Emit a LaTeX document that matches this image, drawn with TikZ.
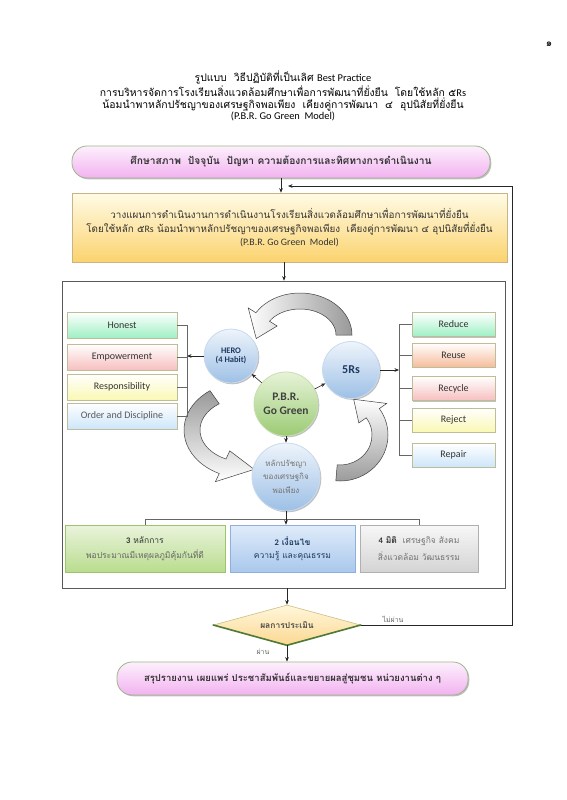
\documentclass[tikz,border=0pt]{standalone}
\usepackage{fontspec}
\setmainfont{Carlito}
\newfontfamily\thaifont[Script=Thai]{Loma}
\usetikzlibrary{arrows.meta,shapes.geometric,shadows}
\newcommand{\thx}[1]{{\thaifont #1}}
\newcommand{\lat}[1]{{\rmfamily #1}}
\newcommand{\fs}[1]{\fontsize{#1}{#1}\selectfont}
\definecolor{pinkT}{HTML}{FDF0FD}
\definecolor{pinkB}{HTML}{F2B2F0}
\definecolor{pillLine}{HTML}{9FB58A}
\definecolor{planT}{HTML}{FFFBE6}
\definecolor{planB}{HTML}{FBD36E}
\definecolor{planLine}{HTML}{C9B488}
\definecolor{txt}{HTML}{333333}
\definecolor{navy}{HTML}{1F3A60}
\definecolor{honB}{HTML}{9EF0C4}
\definecolor{empB}{HTML}{F7BFBF}
\definecolor{resB}{HTML}{FAF8B4}
\definecolor{ordB}{HTML}{CDE6FA}
\definecolor{reuB}{HTML}{F6BC9C}
\definecolor{boxL}{HTML}{BDBD98}
\definecolor{cirT}{HTML}{EEF4FB}
\definecolor{cirB}{HTML}{9DC0E6}
\definecolor{cirL}{HTML}{C9DAEE}
\definecolor{grT}{HTML}{E6F3D8}
\definecolor{grB}{HTML}{9CCB74}
\definecolor{grL}{HTML}{C8DEB0}
\definecolor{bAT}{HTML}{EAF4DC}
\definecolor{bAB}{HTML}{B9DC8E}
\definecolor{bAL}{HTML}{9CC46C}
\definecolor{bBT}{HTML}{E0ECFA}
\definecolor{bBB}{HTML}{A9C8EC}
\definecolor{bBL}{HTML}{8FB0D8}
\definecolor{bCT}{HTML}{F7F7F7}
\definecolor{bCB}{HTML}{D4D4D4}
\definecolor{bCL}{HTML}{B0B0B0}
\definecolor{dT}{HTML}{FFF7DC}
\definecolor{dB}{HTML}{FBD892}
\definecolor{dL}{HTML}{D0BE80}
\definecolor{dG}{HTML}{4E7A36}
\newcommand{\cycarrow}[8]{%
 \begin{scope}[shift={(#2,#3)},yscale=-1]
 \pgfmathsetmacro\cROx{#4+8}\pgfmathsetmacro\cROy{#5+8}
 \pgfmathsetmacro\cRIx{#4-8}\pgfmathsetmacro\cRIy{#5-8}
 \pgfmathsetmacro\cHOx{#4+17}\pgfmathsetmacro\cHOy{#5+17}
 \pgfmathsetmacro\cHIx{#4-17}\pgfmathsetmacro\cHIy{#5-17}
 \pgfmathsetmacro\cT{#7+#8}
 \path[#1] ({\cROx*cos(#6)},{\cROy*sin(#6)}) arc[start angle=#6,end angle=#7,x radius=\cROx,y radius=\cROy]
  -- ({\cHOx*cos(#7)},{\cHOy*sin(#7)}) -- ({#4*cos(\cT)},{#5*sin(\cT)})
  -- ({\cHIx*cos(#7)},{\cHIy*sin(#7)}) -- ({\cRIx*cos(#7)},{\cRIy*sin(#7)})
  arc[start angle=#7,end angle=#6,x radius=\cRIx,y radius=\cRIy] -- cycle;
 \end{scope}}
\tikzset{
 conn/.style={draw=black!85, line width=0.6pt},
 arr/.style={conn,-{Stealth[length=4.5pt,width=3.6pt]}},
 brk/.style={draw=black!60, line width=0.6pt},
 shd/.style={drop shadow={shadow xshift=1.3pt,shadow yshift=-1.3pt,opacity=0.35,fill=black!70}},
 pill/.style={rounded corners=15pt, draw=pillLine, line width=0.8pt, top color=pinkT, bottom color=pinkB, shd, text=txt, font=\thaifont\bfseries\fs{9.5}, inner sep=0pt},
 planbox/.style={draw=planLine, line width=0.6pt, top color=planT, bottom color=planB, shd, text=txt, align=center, font=\thaifont\fs{9.85}, inner sep=0pt},
 lbox/.style={draw=boxL, line width=0.5pt, top color=white, minimum width=110pt, minimum height=26pt, shd, text=txt, font=\fs{10}, inner sep=0pt},
 rbox/.style={draw=boxL, line width=0.5pt, top color=white, minimum width=83pt, minimum height=24pt, shd, text=txt, font=\fs{10}, inner sep=0pt},
 bcir/.style={circle, draw=cirL, line width=0.8pt, top color=cirT, bottom color=cirB, shd, inner sep=0pt, align=center},
 gcir/.style={circle, draw=grL, line width=0.8pt, top color=grT, bottom color=grB, shd, inner sep=0pt, align=center},
 bbox/.style={line width=0.6pt, minimum height=47pt, shd, inner sep=0pt, align=center, font=\thaifont\fs{8.5}},
 cyca/.style={draw=black!75, line width=0.5pt},
 lab/.style={font=\thaifont\fs{7}, text=black!60, inner sep=1pt}
}
\begin{document}
\begin{tikzpicture}[x=1pt,y=-1pt]
\useasboundingbox (0,0) rectangle (566,800);
\fill[white] (0,0) rectangle (566,800);

% page number and title
\node[font=\thaifont\fs{10}] (pg) at (549,44) {๑};
\node[font=\thaifont\fs{10.4}, align=center, text=black] (title) at (283,96)
 {รูปแบบ\ \ วิธีปฏิบัติที่เป็นเลิศ \lat{Best Practice}\\[0.5pt]
  การบริหารจัดการโรงเรียนสิ่งแวดล้อมศึกษาเพื่อการพัฒนาที่ยั่งยืน\ \ โดยใช้หลัก ๕\lat{Rs}\\[0.5pt]
  น้อมนำพาหลักปรัชญาของเศรษฐกิจพอเพียง\ \ เคียงคู่การพัฒนา\ \ ๔\ \ อุปนิสัยที่ยั่งยืน\\[0.5pt]
  \lat{(P.B.R. Go Green\ \ Model)}};

% top pill
\node[pill, font=\thaifont\bfseries\fs{10.2}, minimum width=418pt, minimum height=32pt] (topbox) at (281,162)
 {ศึกษาสภาพ\ \ ปัจจุบัน\ \ ปัญหา ความต้องการและทิศทางการดำเนินงาน};

% plan box
\node[planbox, minimum width=435pt, minimum height=69pt] (plan) at (289.5,227.5)
 {วางแผนการดำเนินงานการดำเนินงานโรงเรียนสิ่งแวดล้อมศึกษาเพื่อการพัฒนาที่ยั่งยืน\\[3pt]
  โดยใช้หลัก ๕\lat{Rs} น้อมนำพาหลักปรัชญาของเศรษฐกิจพอเพียง\ \ เคียงคู่การพัฒนา ๔ อุปนิสัยที่ยั่งยืน\\[3pt]
  \lat{(P.B.R. Go Green\ \ Model)}};

% inner frame
\node[draw=black!65, line width=0.6pt, fill=white, minimum width=443pt, minimum height=307pt, inner sep=0pt] (frame) at (283.5,434.5) {};

% curved cycle arrows
\cycarrow{cyca, left color=white, right color=black!40}{300}{335}{44}{34}{0}{148}{38}
\cycarrow{cyca, top color=black!40, bottom color=white}{245}{430}{53}{40}{125}{245}{35}
\cycarrow{cyca, bottom color=black!40, top color=white}{340}{435}{40}{38}{-95}{35}{35}

% left boxes
\node[lbox, bottom color=honB] (hon) at (122,325) {Honest};
\node[lbox, bottom color=empB] (emp) at (122,357) {Empowerment};
\node[lbox, bottom color=resB] (res) at (122,387) {Responsibility};
\node[lbox, bottom color=ordB, text=black!65] (ord) at (122,416) {Order and Discipline};

% right boxes
\node[rbox, bottom color=honB] (red) at (453.5,324.5) {Reduce};
\node[rbox, bottom color=reuB] (reu) at (453.5,355) {Reuse};
\node[rbox, bottom color=empB] (rec) at (453.5,388.5) {Recycle};
\node[rbox, bottom color=resB] (rej) at (453.5,420) {Reject};
\node[rbox, bottom color=ordB] (rep) at (453.5,455) {Repair};

% circles
\node[bcir, minimum size=54pt, font=\bfseries\fs{8.5}, text=navy] (hero) at (231,356) {HERO\\[1pt](4 Habit)};
\node[bcir, minimum size=57pt, font=\bfseries\fs{12}, text=navy] (r5) at (351,370) {5Rs};
\node[gcir, minimum size=64pt, font=\bfseries\fs{11.5}, text=black!75] (pbr) at (286,404) {P.B.R.\\[3pt]Go Green};
\node[bcir, minimum size=68pt, font=\thaifont\fs{8}, text=black!55] (lak) at (286,477) {หลักปรัชญา\\[4pt]ของเศรษฐกิจ\\[4pt]พอเพียง};

% arrows from center
\draw[arr] (pbr) -- (hero);
\draw[arr] (pbr) -- (r5);
\draw[arr] (pbr) -- (lak);

% left bracket
\coordinate (lbx) at (187,0);
\draw[brk] (hon.east) -- (hon.east -| lbx) -- (ord.east -| lbx) -- (ord.east);
\draw[brk] (emp.east) -- (emp.east -| lbx);
\draw[brk] (res.east) -- (res.east -| lbx);
\draw[arr] (hero.west) -- (hero.west -| lbx);

% right bracket
\coordinate (rbx) at (399,0);
\draw[brk] (red.west) -- (red.west -| rbx) -- (rep.west -| rbx) -- (rep.west);
\draw[brk] (reu.west) -- (reu.west -| rbx);
\draw[brk] (rec.west) -- (rec.west -| rbx);
\draw[brk] (rej.west) -- (rej.west -| rbx);
\draw[arr] (r5.east) -- (r5.east -| rbx);

% bottom boxes
\node[bbox, draw=bAL, top color=bAT, bottom color=bAB, minimum width=160pt] (b1) at (145,548.5)
 {\textcolor{black!80}{\lat{\bfseries 3} หลักการ}\\[5pt]\textcolor{black!60}{พอประมาณมีเหตุผลภูมิคุ้มกันที่ดี}};
\node[bbox, draw=bBL, top color=bBT, bottom color=bBB, minimum width=125pt] (b2) at (292.5,548.5)
 {\textcolor{navy}{\lat{\bfseries 2} \bfseries เงื่อนไข}\\[5pt]\textcolor{navy}{ความรู้ และคุณธรรม}};
\node[bbox, draw=bCL, top color=bCT, bottom color=bCB, minimum width=118pt] (b3) at (419,548.5)
 {\textcolor{black!80}{\lat{\bfseries 4} \bfseries มิติ}\ \ \textcolor{black!55}{เศรษฐกิจ สังคม}\\[5pt]\textcolor{black!55}{สิ่งแวดล้อม วัฒนธรรม}};
\coordinate (bby) at (0,519);
\draw[brk] (b1.north) -- (b1.north |- bby) -- (b3.north |- bby) -- (b3.north);
\draw[arr] (lak.south) -- (lak.south |- b2.north);

% flow below
\node[diamond, aspect=3.6, minimum width=147pt, minimum height=40pt, inner sep=0pt, draw=dL, line width=0.6pt, top color=dT, bottom color=dB, font=\thaifont\bfseries\fs{8.5}, text=black!70] (dia) at (287,625) {ผลการประเมิน};
\draw[dG, line width=1.6pt, line cap=round] (dia.west) -- (dia.south) -- (dia.east);
\node[pill, minimum width=351pt, minimum height=33pt] (fin) at (292.5,678.5)
 {สรุปรายงาน เผยแพร่ ประชาสัมพันธ์และขยายผลสู่ชุมชน หน่วยงานต่าง ๆ};

% connectors
\draw[arr] (topbox.south) -- (topbox.south |- plan.north);
\coordinate (ax) at (284,0);
\draw[arr] (plan.south -| ax) -- (frame.north -| ax);
\draw[arr] (dia.north |- frame.south) -- (dia.north);
\draw[arr] (dia.south) -- (dia.south |- fin.north);
\coordinate (fbR) at (512,625);
\coordinate (fbT) at (512,186);
\coordinate (fbTip) at (288,186);
\draw[conn] (dia.east) -- (fbR) -- (fbT);
\draw[arr] (fbT) -- (fbTip);
\node[lab] (nopass) at (393,619) {ไม่ผ่าน};
\node[lab] (pass) at (263,652) {ผ่าน};
\end{tikzpicture}
\end{document}
